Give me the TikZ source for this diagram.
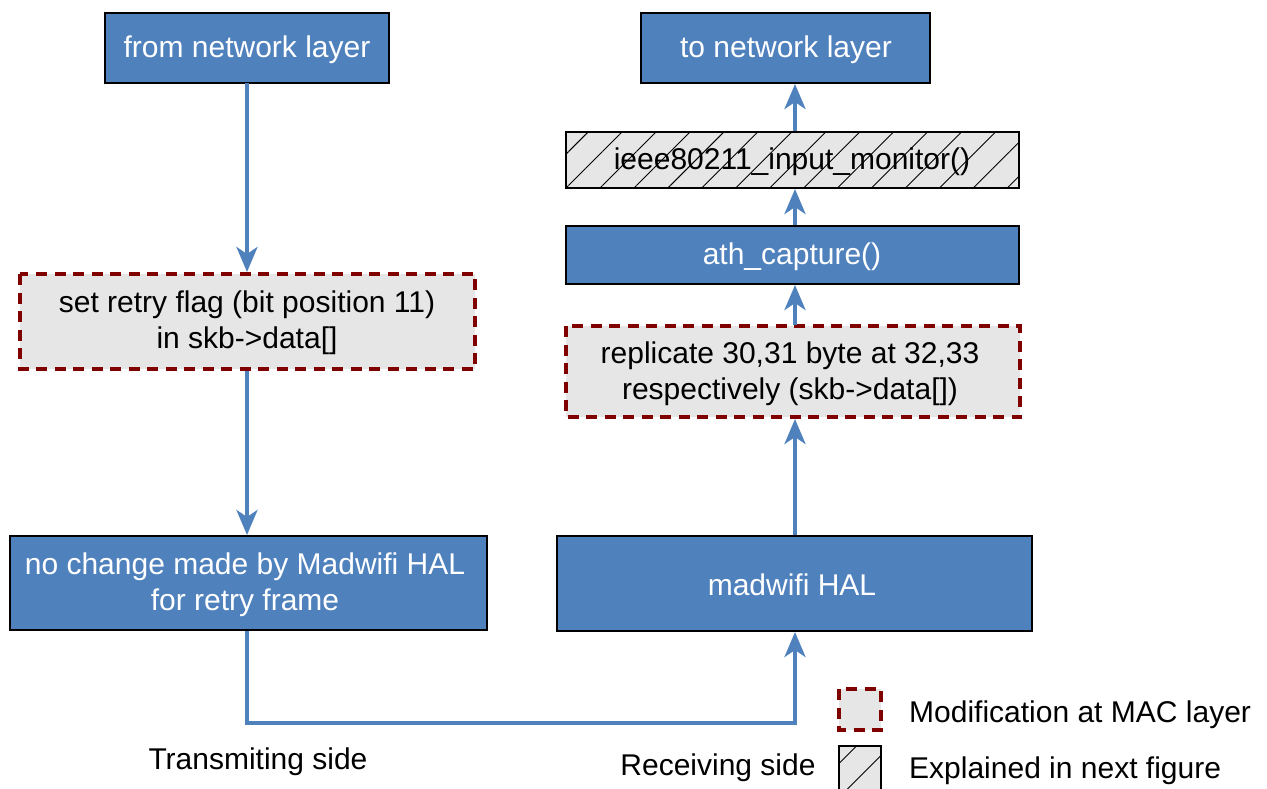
\documentclass[tikz,border=0pt]{standalone}
\usepackage{fontspec}
\setmainfont{Liberation Sans}
\usetikzlibrary{arrows.meta,patterns.meta}
\definecolor{boxblue}{RGB}{79,129,189}
\definecolor{modred}{RGB}{128,0,0}
\definecolor{lightgray}{RGB}{230,230,230}
\tikzset{
  bluebox/.style={draw=black, line width=2pt, fill=boxblue, text=white},
  modbox/.style={draw=modred, line width=4.5pt, dash pattern=on 11pt off 7.5pt, fill=lightgray},
  hatchbox/.style={draw=black, line width=2pt, preaction={fill=lightgray},
    pattern={Lines[angle=45,distance=24pt,line width=0.9pt]}, pattern color=black},
  flow/.style={draw=boxblue, line width=4pt,
    -{Stealth[width=21pt,length=25pt,inset=7pt]}},
  lbl/.style={font=\fontsize{30}{36}\selectfont, align=center, inner sep=0pt}
}
\begin{document}
\begin{tikzpicture}[x=1pt,y=-1pt]
\useasboundingbox (0,0) rectangle (1267,788);

% transmitting side
\draw[bluebox] (105,13) rectangle (389,83);
\node[lbl, text=white] (fromnet) at (247,50) {from network layer};
\coordinate (fromnetS) at (247,83);

\draw[modbox] (20,274) rectangle (475,369);
\node[lbl] (retry) at (247,323) {set retry flag (bit position 11)\\in skb->data[]};
\coordinate (retryN) at (247,272);
\coordinate (retryS) at (247,371);

\draw[bluebox] (10,536) rectangle (487,630);
\node[lbl, text=white] (nochange) at (245,585) {no change made by Madwifi HAL\\for retry frame};
\coordinate (nochangeN) at (247,535);
\coordinate (nochangeS) at (247,631);

% receiving side
\draw[bluebox] (557,536) rectangle (1032,631);
\node[lbl, text=white] (hal) at (792,585) {madwifi HAL};
\coordinate (halS) at (795,632);
\coordinate (halN) at (795,535);

\draw[modbox] (566,326) rectangle (1020,417);
\node[lbl] (replicate) at (790,374) {replicate 30,31 byte at 32,33\\respectively (skb->data[])};
\coordinate (replicateS) at (795,419);
\coordinate (replicateN) at (795,325);

\draw[bluebox] (566,226) rectangle (1019,284);
\node[lbl, text=white] (capture) at (792,257) {ath\_capture()};
\coordinate (captureS) at (795,285);
\coordinate (captureN) at (795,225);

\draw[hatchbox] (566,132) rectangle (1019,188);
\node[lbl] (monitor) at (792,162) {ieee80211\_input\_monitor()};
\coordinate (monitorS) at (795,189);
\coordinate (monitorN) at (795,131);

\draw[bluebox] (641,13) rectangle (930,83);
\node[lbl, text=white] (tonet) at (786,50) {to network layer};
\coordinate (tonetS) at (795,84);

% connectors
\draw[flow] (fromnetS) -- (retryN);
\draw[flow] (retryS) -- (nochangeN);
\coordinate (bendL) at (247,723);
\coordinate (bendR) at (795,723);
\draw[flow] (nochangeS) -- (bendL) -- (bendR) -- (halS);
\draw[flow] (halN) -- (replicateS);
\draw[flow] (replicateN) -- (captureS);
\draw[flow] (captureN) -- (monitorS);
\draw[flow] (monitorN) -- (tonetS);

% side labels
\node[lbl] (txside) at (258,762) {Transmiting side};
\node[lbl] (rxside) at (718,768) {Receiving side};

% legend
\draw[modbox] (839,689) rectangle (881,730);
\node[lbl, anchor=west] (legmod) at (909,715) {Modification at MAC layer};
\draw[hatchbox] (839,746) rectangle (881,790);
\node[lbl, anchor=west] (leghatch) at (909,771) {Explained in next figure};
\end{tikzpicture}
\end{document}
